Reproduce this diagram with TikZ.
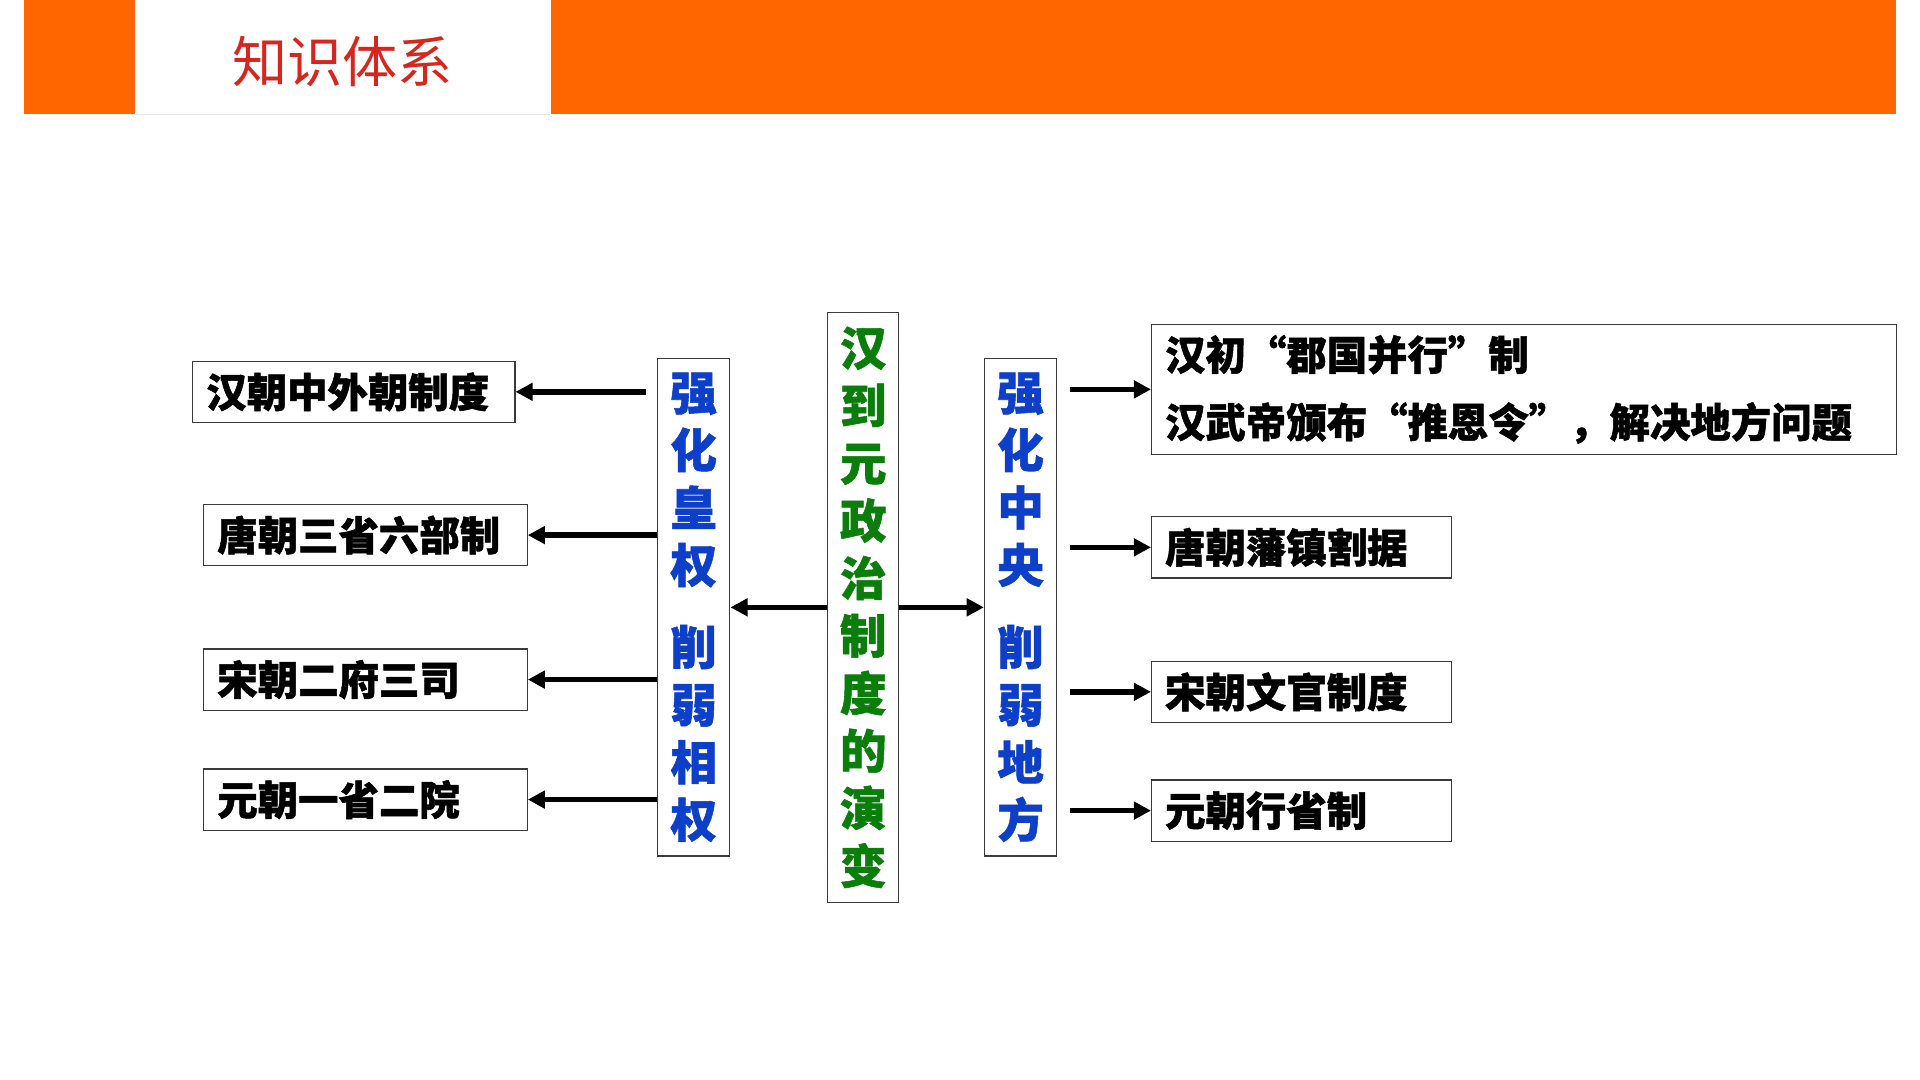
\documentclass[tikz,border=0pt]{standalone}
\usepackage{fontspec}
\setmainfont{Noto Sans CJK SC}[BoldFeatures={FakeBold=1.2}]
\usetikzlibrary{arrows.meta,positioning}
\definecolor{headorange}{HTML}{FF6600}
\definecolor{titlered}{HTML}{D7261E}
\definecolor{deepblue}{HTML}{0D3FC8}
\definecolor{deepgreen}{HTML}{0B7D0B}
\definecolor{edgegray}{HTML}{3A3A3A}

\begin{document}
\begin{tikzpicture}[x=1pt,y=-1pt,
    item/.style={draw=edgegray,line width=1pt,anchor=west,align=left,inner xsep=11pt,inner ysep=0pt,minimum height=50pt,font=\fontsize{33}{38}\selectfont\bfseries},
    pillar/.style={draw=edgegray,line width=1pt,inner sep=0pt,align=center,font=\fontsize{38}{47}\selectfont\bfseries},
    arr/.style={-{Triangle[length=14pt,width=14pt]},line width=4.5pt}
  ]
  \useasboundingbox (0,0) rectangle (1568,882);
  % header band
  \fill[headorange] (20,0) rectangle (1548,93);
  \fill[white] (110,0) rectangle (450,93);
  \draw[black!8] (110,93) -- (450,93);
  \node[text=titlered,font=\fontsize{45}{50}\selectfont] (title) at (280,50) {知识体系};

  % middle columns
  \node[pillar,text=deepgreen,minimum width=58pt,minimum height=482pt] (yanbian) at (705,496) {汉\\到\\元\\政\\治\\制\\度\\的\\演\\变};
  \node[pillar,text=deepblue,minimum width=59pt,minimum height=406pt,left=79pt of yanbian] (huangquan) {强\\化\\皇\\权\\[20pt]削\\弱\\相\\权};
  \node[pillar,text=deepblue,minimum width=59pt,minimum height=406pt,right=69pt of yanbian] (zhongyang) {强\\化\\中\\央\\[20pt]削\\弱\\地\\方};

  % left side
  \node[item,text width=241pt] (hanwai) at (157,320) {汉朝中外朝制度};
  \node[item,text width=242pt] (tangsan) at (166,437) {唐朝三省六部制};
  \node[item,text width=242pt] (songer) at (166,555) {宋朝二府三司};
  \node[item,text width=242pt] (yuanyi) at (166,653) {元朝一省二院};

  % right side
  \node[item,text width=586pt,minimum height=106pt,font=\fontsize{33}{55}\selectfont\bfseries] (junguo) at (940,318) {汉初“郡国并行”制\\汉武帝颁布“推恩令”，解决地方问题};
  \node[item,text width=223pt] (fanzhen) at (940,447) {唐朝藩镇割据};
  \node[item,text width=223pt] (wenguan) at (940,565) {宋朝文官制度};
  \node[item,text width=223pt] (xingsheng) at (940,662) {元朝行省制};

  \draw[arr] (yanbian.west) -- (huangquan.east);
  \draw[arr] (yanbian.east) -- (zhongyang.west);

  \draw[arr] ([xshift=-9pt]huangquan.west |- hanwai.east) -- (hanwai.east);
  \draw[arr] (huangquan.west |- tangsan.east) -- (tangsan.east);
  \draw[arr] (huangquan.west |- songer.east) -- (songer.east);
  \draw[arr] (huangquan.west |- yuanyi.east) -- (yuanyi.east);

  \draw[arr] ([xshift=10pt]zhongyang.east |- junguo.west) -- (junguo.west);
  \draw[arr] ([xshift=10pt]zhongyang.east |- fanzhen.west) -- (fanzhen.west);
  \draw[arr] ([xshift=10pt]zhongyang.east |- wenguan.west) -- (wenguan.west);
  \draw[arr] ([xshift=10pt]zhongyang.east |- xingsheng.west) -- (xingsheng.west);
\end{tikzpicture}
\end{document}
